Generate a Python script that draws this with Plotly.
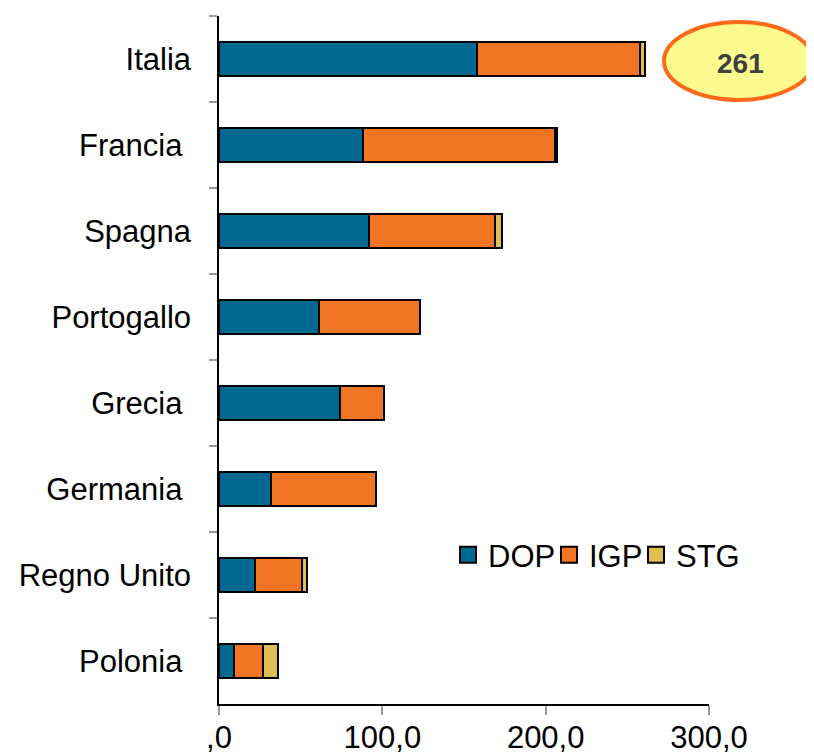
import plotly.graph_objects as go

paesi = ["Italia", "Francia\u00a0", "Spagna", "Portogallo", "Grecia\u00a0",
         "Germania\u00a0", "Regno Unito", "Polonia\u00a0"]
dop = [158, 88, 92, 61, 74, 32, 22, 9]
igp = [100, 118, 77, 62, 27, 64, 29, 18]
stg = [3, 1, 4, 0, 0, 0, 3, 9]
totale_italia = "261"

x_tickvals = [0, 100, 200, 300]
x_ticktext = [",0", "100,0", "200,0", "300,0"]

colori = {"DOP": "#006991", "IGP": "#F07524", "STG": "#DDBF52"}
# larghezza delle voci di legenda (None = automatica)
larghezze_legenda = {"DOP": 56, "IGP": 42, "STG": None}

fig = go.Figure()
for nome, valori in [("DOP", dop), ("IGP", igp), ("STG", stg)]:
    fig.add_trace(go.Bar(
        y=paesi, x=valori, name=nome, orientation="h", showlegend=False,
        legendgroup=nome,
        marker=dict(color=colori[nome], line=dict(color="black", width=2)),
    ))
# voci di legenda con quadratini piu' grandi
for nome in ["DOP", "IGP", "STG"]:
    fig.add_trace(go.Scatter(
        x=[None], y=[None], mode="markers", name=nome, legendgroup=nome,
        legendwidth=larghezze_legenda[nome],
        marker=dict(symbol="square", size=16, color=colori[nome],
                    line=dict(color="black", width=2)),
    ))

# la pagina aggiunge 8px di margine al body: la figura e' piu' piccola di 8px
OFF = 8
W, H = 814 - OFF, 756 - OFF
# area del grafico (coordinate della pagina): x 219..709, y 16..704
L, T = 219 - OFF, 16 - OFF
R, B = 814 - 709, 756 - 704
pw, ph = W - L - R, H - T - B

def px(x):
    return (x - OFF - L) / pw

def py(y):
    return (H - B - (y - OFF)) / ph

# ellisse con il totale
fig.add_shape(type="circle", xref="paper", yref="paper",
              x0=px(664), x1=px(813), y0=py(100), y1=py(22),
              fillcolor="#FCFC8E", line=dict(color="#FF6A1A", width=4))
fig.add_annotation(xref="paper", yref="paper", x=px(740), y=py(63),
                   xanchor="center", yanchor="middle",
                   text="<b>" + totale_italia + "</b>", showarrow=False,
                   font=dict(size=28, color="#404040"))

fig.update_layout(
    width=W, height=H,
    margin=dict(l=L, r=R, t=T, b=B, autoexpand=False),
    barmode="stack", bargap=0.6,
    plot_bgcolor="white", paper_bgcolor="white",
    font=dict(family="Liberation Sans, Arial, sans-serif", size=31, color="black"),
    showlegend=True,
    legend=dict(orientation="h", x=px(448), y=py(528), xanchor="left", yanchor="top",
                bgcolor="rgba(0,0,0,0)", font=dict(size=31), traceorder="normal"),
    xaxis=dict(range=[0, 300], tickvals=x_tickvals, ticktext=x_ticktext,
               showgrid=False, zeroline=False, showline=True, linecolor="black",
               linewidth=1.5, ticks="outside", ticklen=9, tickcolor="#999999",
               tickwidth=2, ticklabelstandoff=-4),
    yaxis=dict(autorange="reversed", showgrid=False, zeroline=False,
               showline=True, linecolor="black", linewidth=1.5,
               ticks="outside", tickson="boundaries", ticklen=8,
               tickcolor="#999999", tickwidth=2, ticklabelstandoff=20),
)

fig.write_html("out.html")
